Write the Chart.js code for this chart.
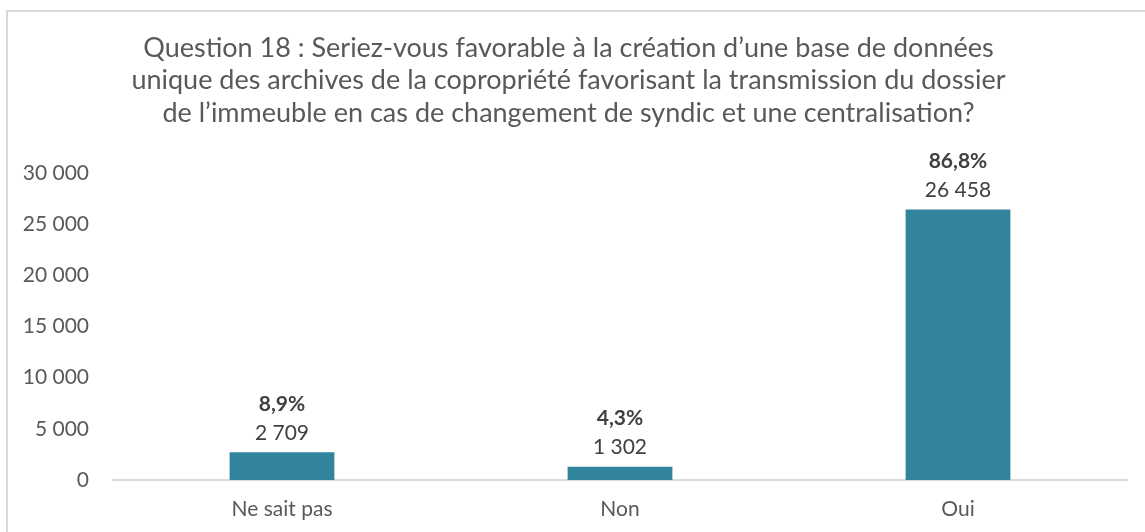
<!DOCTYPE html>
<html>
<head>
<meta charset="utf-8">
<script src="https://cdn.jsdelivr.net/npm/chart.js@4/dist/chart.umd.min.js"></script>
<style>
  html, body { margin: 0; padding: 0; background: #fff; }
  #wrap { position: relative; width: 1145px; height: 532px; overflow: hidden; }
  #frame { position: absolute; left: 6px; top: 10px; width: 1160px; height: 560px; border: 2px solid #d9d9d9; box-sizing: border-box; }
  canvas { position: absolute; left: 0; top: 0; }
</style>
</head>
<body>
<div id="wrap">
  <div id="frame"></div>
  <canvas id="barChart" width="1145" height="532"></canvas>
</div>
<script>
var categories = ["Ne sait pas", "Non", "Oui"];
var counts = [2709, 1302, 26458];
var percentLabels = ["8,9%", "4,3%", "86,8%"];
var yTicks = [0, 5000, 10000, 15000, 20000, 25000, 30000];
var titleLines = [
  "Question 18 : Seriez-vous favorable à la création d\u2019une base de données",
  "unique des archives de la copropriété favorisant la transmission du dossier",
  "de l\u2019immeuble en cas de changement de syndic et une centralisation?"
];

var fontFamily = "Lato, 'Liberation Sans', sans-serif";

function spaced(n) {
  return String(n).replace(/\B(?=(\d{3})+(?!\d))/g, " ");
}

// draws the two-line labels above each bar
var barLabels = {
  id: "barLabels",
  afterDatasetsDraw: function(chart) {
    var ctx = chart.ctx;
    var meta = chart.getDatasetMeta(0);
    ctx.save();
    ctx.textAlign = "center";
    ctx.textBaseline = "middle";
    ctx.fillStyle = "#404040";
    meta.data.forEach(function(bar, i) {
      ctx.font = "bold 21px " + fontFamily;
      ctx.fillText(percentLabels[i], bar.x, bar.y - 48);
      ctx.font = "21px " + fontFamily;
      ctx.fillText(spaced(counts[i]), bar.x, bar.y - 19);
    });
    ctx.restore();
  }
};

var ctx = document.getElementById("barChart").getContext("2d");
new Chart(ctx, {
  type: "bar",
  data: {
    labels: categories,
    datasets: [{
      data: counts,
      backgroundColor: "#31849b",
      barPercentage: 0.31,
      categoryPercentage: 1
    }]
  },
  options: {
    responsive: false,
    animation: false,
    layout: { padding: { top: 14, right: 18, bottom: 0, left: 10 } },
    plugins: {
      legend: { display: false },
      tooltip: { enabled: false },
      title: {
        display: true,
        text: titleLines,
        color: "#595959",
        font: { family: fontFamily, size: 27, weight: "normal", lineHeight: 1.2 },
        padding: { top: 18, bottom: 44 }
      }
    },
    scales: {
      x: {
        afterFit: function(scale) { scale.height = 52; },
        grid: { display: false, drawTicks: false },
        border: { display: true, color: "#d9d9d9", width: 2 },
        ticks: { color: "#595959", font: { family: fontFamily, size: 21 }, padding: 17 }
      },
      y: {
        min: 0,
        max: 30000,
        afterBuildTicks: function(scale) {
          scale.ticks = yTicks.map(function(v) { return { value: v }; });
        },
        afterFit: function(scale) { scale.width = 103; },
        grid: { display: false, drawTicks: false },
        border: { display: false },
        ticks: {
          color: "#595959",
          font: { family: fontFamily, size: 21 },
          padding: 24,
          callback: function(v) { return spaced(v); }
        }
      }
    }
  },
  plugins: [barLabels]
});
</script>
</body>
</html>
